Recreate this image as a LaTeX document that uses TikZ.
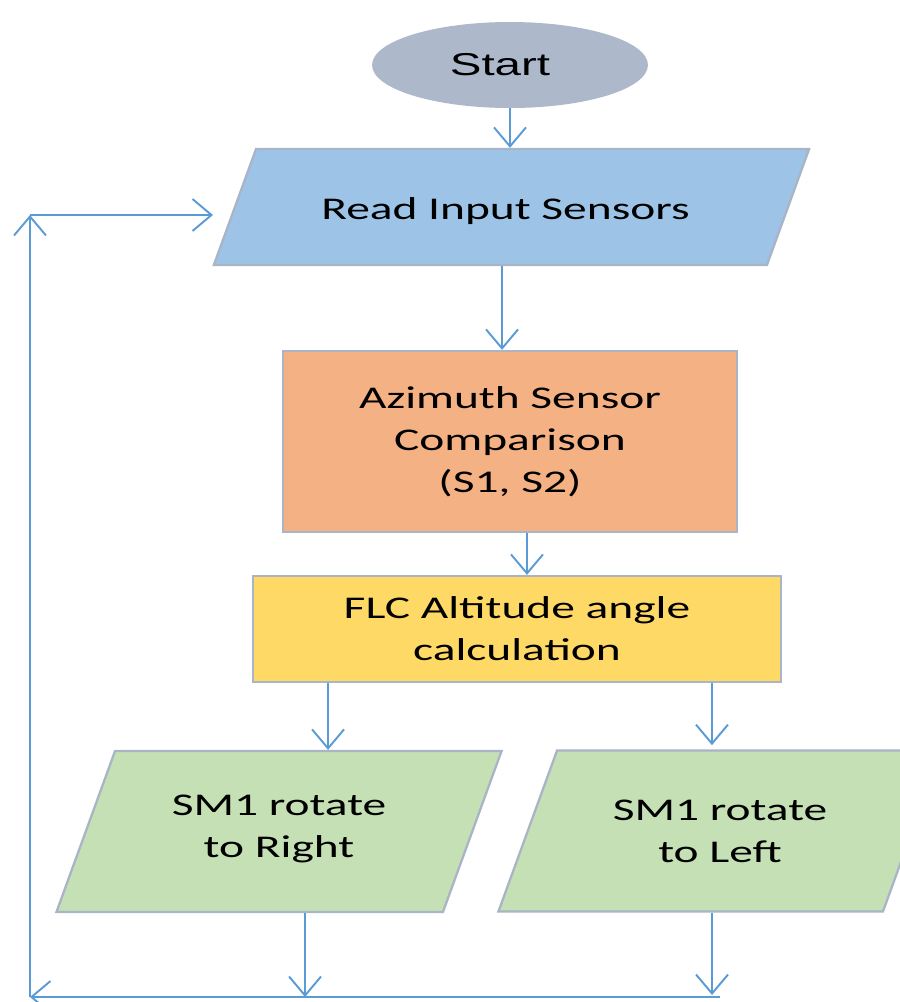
\documentclass[tikz,border=0pt]{standalone}
\usepackage{fontspec}
\setmainfont{Carlito}[FakeStretch=1.5]
\newfontfamily\startfont{Liberation Sans}[FakeStretch=1.5]
\usetikzlibrary{arrows.meta,shapes.geometric}

\definecolor{startgray}{HTML}{ADB9CA}
\definecolor{readblue}{HTML}{9DC3E6}
\definecolor{azimorange}{HTML}{F4B183}
\definecolor{flcyellow}{HTML}{FFD966}
\definecolor{motorgreen}{HTML}{C5E0B4}
\definecolor{edgegray}{HTML}{A9B4C6}
\definecolor{flowblue}{HTML}{5B9BD5}

% body of a slanted box: width, height, centred text
\newcommand{\slanttext}[3]{\parbox[c][#2][c]{#1}{\centering #3}}

\begin{document}
\begin{tikzpicture}
    [x=0.02cm,y=-0.02cm,
    terminal/.style={ellipse,fill=startgray,inner sep=0pt,
    minimum width=5.52cm,minimum height=1.72cm,
    font=\startfont\fontsize{18}{22}\selectfont},
    io/.style={trapezium,trapezium left angle=70,trapezium right angle=110,
    draw=edgegray,line width=1.3pt,inner sep=0pt,
    font=\fontsize{18}{24}\selectfont},
    process/.style={rectangle,draw=edgegray,line width=1.3pt,inner sep=0pt,
    align=center,font=\fontsize{18}{24}\selectfont},
    flow/.style={draw=flowblue,line width=1.1pt,
    -{Straight Barb[length=0.38cm,width=0.64cm]}}]
    \useasboundingbox (0,0) rectangle (900,1002);

    \node[terminal] (start) at (510,65) {Start\kern0.4cm};
    \node[io,fill=readblue] (read) at (511.5,207)
        {\slanttext{10.22cm}{2.32cm}{\vspace*{0.16cm}Read Input Sensors\kern0.24cm}};
    \node[process,fill=azimorange,minimum width=9.08cm,minimum height=3.62cm]
        (azimuth) at (510,441.5) {Azimuth Sensor\\Comparison\\(S1, S2)};
    \node[process,fill=flcyellow,minimum width=10.56cm,minimum height=2.12cm]
        (flc) at (517,629) {FLC Altitude angle\\calculation};
    \node[io,fill=motorgreen] (rotate right) at (279,831.5)
        {\slanttext{6.56cm}{3.22cm}{SM1 rotate\\to Right\\[0.1cm]}};
    \node[io,fill=motorgreen] (rotate left) at (720,831)
        {\slanttext{6.52cm}{3.22cm}{SM1 rotate\\to Left}};

    % points where the connectors leave the boxes
    \coordinate (read out) at ([xshift=-0.19cm]read.south);
    \coordinate (azimuth out) at ([xshift=0.34cm]azimuth.south);
    \coordinate (flc right out) at ([xshift=-3.78cm]flc.south);
    \coordinate (flc left out) at ([xshift=3.9cm]flc.south);
    \coordinate (right out) at ([xshift=0.52cm]rotate right.south);
    \coordinate (left out) at ([xshift=-0.16cm]rotate left.south);

    % feedback loop back to the sensors
    \coordinate (bus right) at (720,997);
    \coordinate (bus left) at (30,997);
    \coordinate (loop top) at (30,215);
    \coordinate (read in) at (213,215);

    \draw[flow] (start.south) -- (start.south |- read.north);
    \draw[flow] (read out) -- (read out |- azimuth.north);
    \draw[flow] (azimuth out) -- (azimuth out |- flc.north);
    \draw[flow] (flc right out) -- (flc right out |- rotate right.north);
    \draw[flow] (flc left out) -- ++(0,62);
    \draw[flow] (right out) -- (right out |- bus left);
    \draw[flow] (left out) -- ([yshift=0.04cm]left out |- bus left);
    \draw[flow] (bus right) -- (bus left);
    \draw[flow] (bus left) -- (loop top);
    \draw[flow] (loop top) -- (read in);
\end{tikzpicture}
\end{document}
